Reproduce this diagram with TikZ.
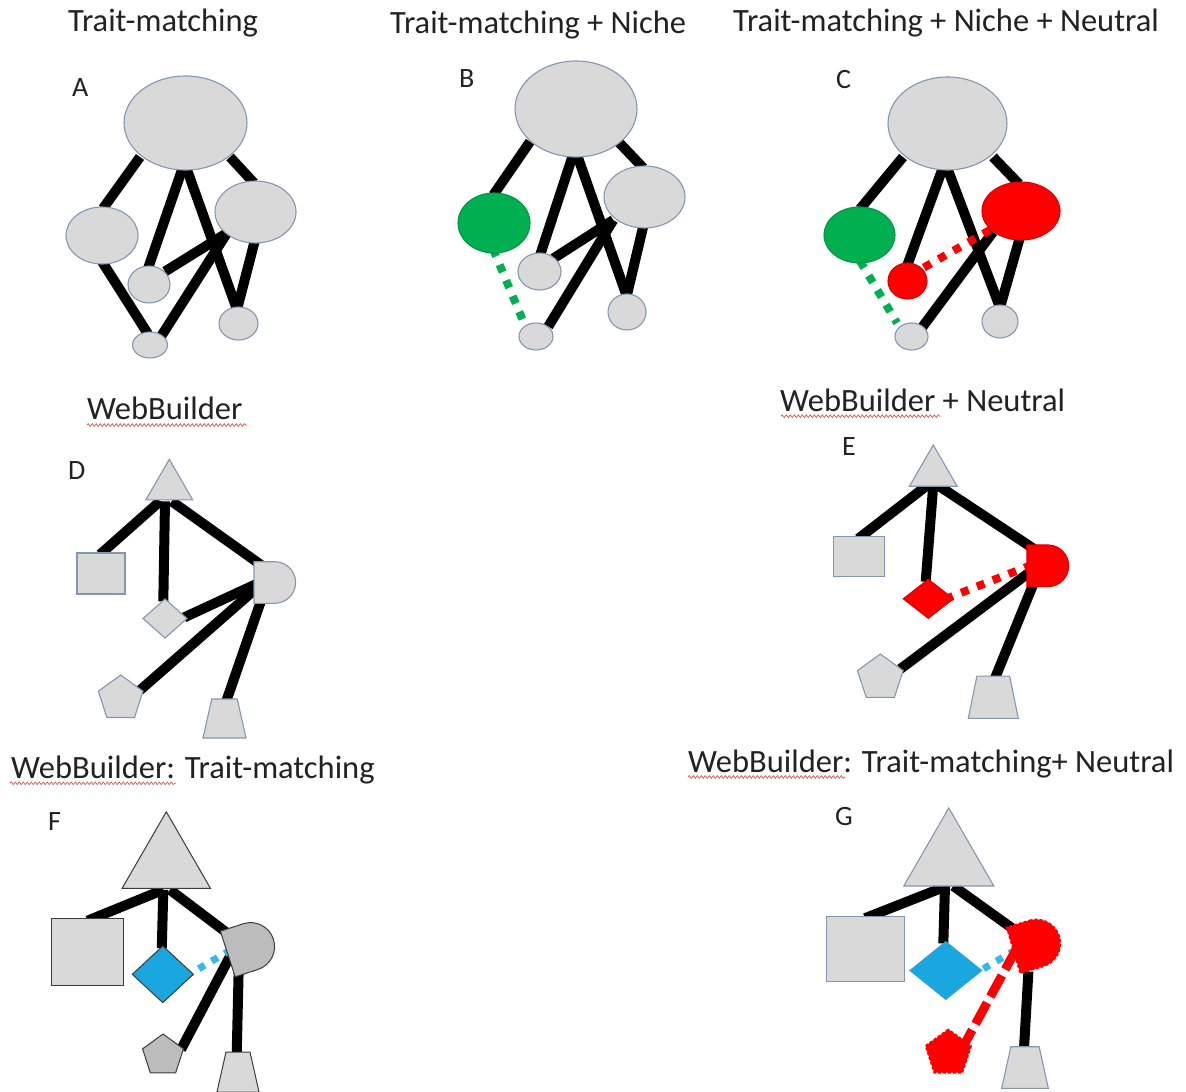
\documentclass[tikz,border=0pt]{standalone}
\usepackage{fontspec}
\setmainfont{Carlito}
\usetikzlibrary{shapes.geometric,shapes.misc,calc,decorations.pathmorphing}
\pgfdeclarelayer{paper}
\pgfdeclarelayer{links}
\pgfsetlayers{paper,links,main}
\definecolor{palegrey}{HTML}{D9D9D9}
\definecolor{midgrey}{HTML}{BCBCBC}
\definecolor{rim}{HTML}{8497B0}
\definecolor{darkrim}{HTML}{3C3C3C}
\definecolor{nichegreen}{HTML}{00B050}
\definecolor{neutralred}{HTML}{FF0000}
\definecolor{traitblue}{HTML}{1AA7E0}
\definecolor{traitdots}{HTML}{33B9EE}
\definecolor{ink}{HTML}{222222}
\definecolor{squiggle}{HTML}{E06060}
% trapezium drawn inside a named frame node: #1 = inset of the top corners
\newcommand{\trapfill}[3]{%
  \filldraw[#1] (#2.south west) -- ($(#2.north west)+(#3,0)$)
    -- ($(#2.north east)+(-#3,0)$) -- (#2.south east) -- cycle;}
\begin{document}
\begin{tikzpicture}[x=1pt,y=-1pt,
  wh/.style 2 args={minimum width=#1pt,minimum height=#2pt},
  shp/.style={inner sep=0pt,outer sep=0pt,line width=1.1pt},
  pale/.style={shp,fill=palegrey,draw=rim},
  paledark/.style={shp,fill=palegrey,draw=darkrim,line width=1pt},
  greyish/.style={shp,fill=midgrey,draw=darkrim,line width=1pt},
  reddish/.style={shp,fill=neutralred,draw=neutralred!85!black},
  greenish/.style={shp,fill=nichegreen,draw=nichegreen!85!black},
  oval/.style={ellipse},
  tri/.style={regular polygon,regular polygon sides=3},
  penta/.style={regular polygon,regular polygon sides=5},
  box/.style={rectangle},
  rhomb/.style={diamond},
  frame/.style={rectangle,inner sep=0pt,outer sep=0pt},
  halfdisc/.style={rounded rectangle,rounded rectangle left arc=none},
  link/.style={line width=10pt,draw=black},
  dots/.style={line width=8pt,dash pattern=on 8pt off 9pt},
  title/.style={anchor=base west,font=\fontsize{32.5}{39}\selectfont,text=ink,inner sep=0pt},
  tag/.style={anchor=base west,font=\fontsize{28}{33}\selectfont,text=ink,inner sep=0pt},
  wavy/.style={decorate,decoration={snake,segment length=4pt,amplitude=1.3pt},draw=squiggle,line width=0.8pt}]

\begin{pgfonlayer}{paper}
  \fill[white] (0,0) rectangle (1186,1092);
\end{pgfonlayer}
\useasboundingbox (0,0) rectangle (1186,1092);

% ---------- titles and panel letters ----------
\node[title] (tA) at (68,31) {Trait-matching};
\node[title] (tB) at (390,33) {Trait-matching + Niche};
\node[title] (tC) at (733,31) {Trait-matching + Niche + Neutral};
\node[title] (tD) at (87,419.5) {WebBuilder};
\node[title] (tE) at (780,411.7) {WebBuilder + Neutral};
\node[title] (tF) at (11,778.3) {WebBuilder: Trait-matching};
\node[title] (tG) at (688,772) {WebBuilder: Trait-matching+ Neutral};

\draw[wavy] ($(tD.base west)+(0,5.5)$) -- ++(160,0);
\draw[wavy] ($(tE.base west)+(1,4.5)$) -- ++(159,0);
\draw[wavy] ($(tF.base west)+(-1,5)$) -- ++(166,0);
\draw[wavy] ($(tG.base west)+(0,5)$) -- ++(157,0);

\node[tag] (lA) at (72,96.7) {A};
\node[tag] (lB) at (459,87.3) {B};
\node[tag] (lC) at (836,88.3) {C};
\node[tag] (lD) at (68,479.3) {D};
\node[tag] (lE) at (842,455.7) {E};
\node[tag] (lF) at (48,830) {F};
\node[tag] (lG) at (835,825) {G};

% ---------- A: trait-matching ----------
\node[oval,pale,wh={123}{94}] (A1) at (185.5,123) {};
\node[oval,pale,wh={72}{57}]  (A2) at (102,235.5) {};
\node[oval,pale,wh={81}{62}]  (A3) at (255.5,212) {};
\node[oval,pale,wh={42}{37}]  (A4) at (149,284.5) {};
\node[oval,pale,wh={35}{26}]  (A5) at (150,345) {};
\node[oval,pale,wh={39}{33}]  (A6) at (238.5,323.5) {};

% ---------- B: + niche ----------
\node[oval,pale,wh={122}{96}]    (B1) at (576,109) {};
\node[oval,greenish,wh={72}{60}] (B2) at (494,223) {};
\node[oval,pale,wh={81}{62}]     (B3) at (644.5,197) {};
\node[oval,pale,wh={43}{37}]     (B4) at (539.5,271.5) {};
\node[oval,pale,wh={34}{27}]     (B5) at (536,336.5) {};
\node[oval,pale,wh={38}{36}]     (B6) at (627,312) {};

% ---------- C: + niche + neutral ----------
\node[oval,pale,wh={119}{93}]    (C1) at (947.5,123.5) {};
\node[oval,greenish,wh={71}{56}] (C2) at (859.5,235) {};
\node[oval,reddish,wh={78}{58}]  (C3) at (1021,211) {};
\node[oval,reddish,wh={39}{36}]  (C4) at (907.5,281) {};
\node[oval,pale,wh={33}{27}]     (C5) at (911.5,336.5) {};
\node[oval,pale,wh={36}{33}]     (C6) at (1000,321.5) {};

% ---------- D: WebBuilder ----------
\node[tri,pale,minimum size=54pt]  (D1) at (169.3,486.3) {};
\node[box,pale,wh={48}{41}]        (D2) at (101,573.5) {};
\node[rhomb,pale,wh={44}{39}]      (D3) at (165,618.5) {};
\node[halfdisc,pale,wh={31}{41.6}] (D4) at (274.8,582.5) {};
\node[penta,pale,minimum size=47pt] (D5) at (120.7,698.5) {};
\node[frame,wh={43}{39}]           (D6) at (224.5,718.5) {};
\trapfill{pale}{D6}{8.75}

% ---------- E: WebBuilder + neutral ----------
\node[tri,pale,minimum size=55pt]     (E1) at (933.3,472.5) {};
\node[box,pale,wh={51}{40}]           (E2) at (858.8,556.7) {};
\node[rhomb,reddish,wh={50}{39}]      (E3) at (928.3,598.8) {};
\node[halfdisc,reddish,wh={34.3}{41.7}] (E4) at (1047.8,565.8) {};
\node[penta,pale,minimum size=48pt]   (E5) at (880.3,678) {};
\node[frame,wh={50}{42.3}]            (E6) at (993.3,697.2) {};
\trapfill{pale}{E6}{8.65}

% ---------- F: WebBuilder trait-matching ----------
\node[tri,paledark,minimum size=102pt] (F1) at (166.3,862.8) {};
\node[box,paledark,wh={71.6}{66.7}]    (F2) at (87.5,951.7) {};
\node[rhomb,shp,fill=traitblue,draw=darkrim,line width=1pt,wh={61}{56.7}] (F3) at (162.8,974.3) {};
\node[halfdisc,greyish,wh={38}{48},rotate=18] (F4) at (250.6,946.6) {};
\node[penta,greyish,minimum size=43pt] (F5) at (163,1055.5) {};
\node[frame,wh={42}{40}]               (F6) at (238,1072) {};
\trapfill{paledark}{F6}{9}

% ---------- G: WebBuilder trait-matching + neutral ----------
\node[tri,pale,minimum size=104pt]  (G1) at (948.8,860) {};
\node[box,pale,wh={77.6}{65}]       (G2) at (865.5,949.2) {};
\node[rhomb,shp,fill=traitblue,draw=traitblue!80!rim,wh={71.7}{57.7}] (G3) at (945.8,970.5) {};
\node[halfdisc,shp,fill=neutralred,draw=neutralred,line width=1.6pt,dash pattern=on 3pt off 2pt,wh={41}{48},rotate=16.5] (G4) at (1036.4,943.4) {};
\node[penta,shp,fill=neutralred,draw=neutralred,line width=1.6pt,dash pattern=on 3pt off 2pt,minimum size=48pt] (G5) at (948.3,1053.3) {};
\node[frame,wh={46.6}{41.6}]        (G6) at (1025,1067.5) {};
\trapfill{pale}{G6}{9.15}

% ---------- interaction links, kept beneath the shapes ----------
\begin{pgfonlayer}{links}
  % A
  \draw[link] ($(A1)+(-45.5,34)$) -- ($(A2)+(1,-27)$);
  \draw[link] ($(A1)+(44.5,34)$)  -- ($(A3)+(-1.5,-29)$);
  \draw[link] ($(A1)+(-2.5,44)$)  -- ($(A4)+(-1,-16)$);
  \draw[link] ($(A1)+(0.5,44)$)   -- ($(A6)+(-1.5,-14)$);
  \draw[link] ($(A3)+(-28.5,21)$) -- ($(A4)+(16,-13)$);
  \draw[link] ($(A3)+(-28.5,21)$) -- ($(A5)+(10,-7)$);
  \draw[link] ($(A2)+(0,26)$)     -- ($(A5)+(-2,-11)$);
  \draw[link] ($(A3)+(-0.5,28)$)  -- ($(A6)+(-1.5,-14)$);
  % B
  \draw[link] ($(B1)+(-46,32.7)$) -- ($(B2)+(-0.7,-28)$);
  \draw[link] ($(B1)+(42.3,32.7)$) -- ($(B3)+(-1.2,-29)$);
  \draw[link] ($(B1)+(-2.7,45)$)  -- ($(B4)+(0.5,-16)$);
  \draw[link] ($(B1)+(0.7,45)$)   -- ($(B6)+(-0.3,-16)$);
  \draw[link] ($(B3)+(-31.2,23)$) -- ($(B4)+(13.8,-13)$);
  \draw[link] ($(B3)+(-31.2,23)$) -- ($(B5)+(12.3,-10)$);
  \draw[link] ($(B3)+(-1.2,29)$)  -- ($(B6)+(-0.3,-16)$);
  \draw[dots,nichegreen] ($(B2)+(-1,26)$) -- ($(B5)+(-11,-11)$);
  % C
  \draw[link] ($(C1)+(-44.5,33.5)$) -- ($(C2)+(0.5,-26)$);
  \draw[link] ($(C1)+(45.5,33.5)$)  -- ($(C3)+(-2,-27)$);
  \draw[link] ($(C1)+(-4.5,44)$)    -- ($(C4)+(-0.5,-15)$);
  \draw[link] ($(C1)+(-0.5,44)$)    -- ($(C6)+(0,-14)$);
  \draw[link] ($(C3)+(-28,21)$)     -- ($(C5)+(10.5,-9)$);
  \draw[link] ($(C3)+(-1,26)$)      -- ($(C6)+(0,-14)$);
  \draw[dots,neutralred] ($(C3)+(-31,19)$) -- ($(C4)+(12,-11)$);
  \draw[dots,nichegreen] ($(C2)+(0.5,26)$) -- ($(C5)+(-14.5,-13.5)$);
  % D
  \draw[link] ($(D1)+(-9.3,15)$) -- ($(D2)+(-1,-19)$);
  \draw[link] ($(D1)+(-4.3,15)$) -- ($(D3)+(-1.7,-17)$);
  \draw[link] ($(D1)+(2.4,15)$)  -- ($(D4)+(-13,-17)$);
  \draw[link] ($(D4)+(-13,-1)$)  -- ($(D3)+(19,-1)$);
  \draw[link] ($(D4)+(-13,1)$)   -- ($(D5)+(19,-8)$);
  \draw[link] ($(D4)+(-13,16)$)  -- ($(D6)+(2,-18)$);
  % E
  \draw[link] ($(E1)+(-5,12)$)   -- ($(E2)+(-0.5,-18)$);
  \draw[link] ($(E1)+(0,12)$)    -- ($(E3)+(-2.6,-17)$);
  \draw[link] ($(E1)+(3.4,12)$)  -- ($(E4)+(-14,-17)$);
  \draw[link] ($(E4)+(-15,4)$)   -- ($(E5)+(20,-9)$);
  \draw[link] ($(E4)+(-14,17)$)  -- ($(E6)+(1.7,-19)$);
  \draw[dots,neutralred] ($(E4)+(-16,-1)$) -- ($(E3)+(19,-0.5)$);
  % F
  \draw[link] ($(F1)+(-3,27)$)   -- ($(F2)+(0,-31)$);
  \draw[link] ($(F1)+(-3,27)$)   -- ($(F3)+(-1,-26)$);
  \draw[link] ($(F1)+(3.7,27)$)  -- ($(F4)+(-24,-14)$);
  \draw[link] ($(F4)+(-19,6.7)$) -- ($(F5)+(18,-6)$);
  \draw[link] ($(F4)+(-12,26)$)  -- ($(F6)+(-1.3,-18)$);
  \draw[dots,traitdots,line width=7pt,dash pattern=on 7pt off 8pt] ($(F4)+(-20,3.4)$) -- ($(F3)+(28,-1)$);
  % G
  \draw[link] ($(G1)+(-2,26)$)   -- ($(G2)+(-0.5,-31)$);
  \draw[link] ($(G1)+(-3.8,26)$) -- ($(G3)+(-2.5,-27)$);
  \draw[link] ($(G1)+(4.5,26)$)  -- ($(G4)+(-24,-15)$);
  \draw[link] ($(G4)+(-8,28)$)   -- ($(G6)+(-1,-19)$);
  \draw[dots,traitdots,line width=7pt,dash pattern=on 7pt off 8pt] ($(G4)+(-21,6.6)$) -- ($(G3)+(33,1)$);
  \draw[neutralred,line width=9pt,dash pattern=on 24pt off 7pt] ($(G4)+(-19.7,4.9)$) -- ($(G5)+(15,-7)$);
\end{pgfonlayer}
\end{tikzpicture}
\end{document}
